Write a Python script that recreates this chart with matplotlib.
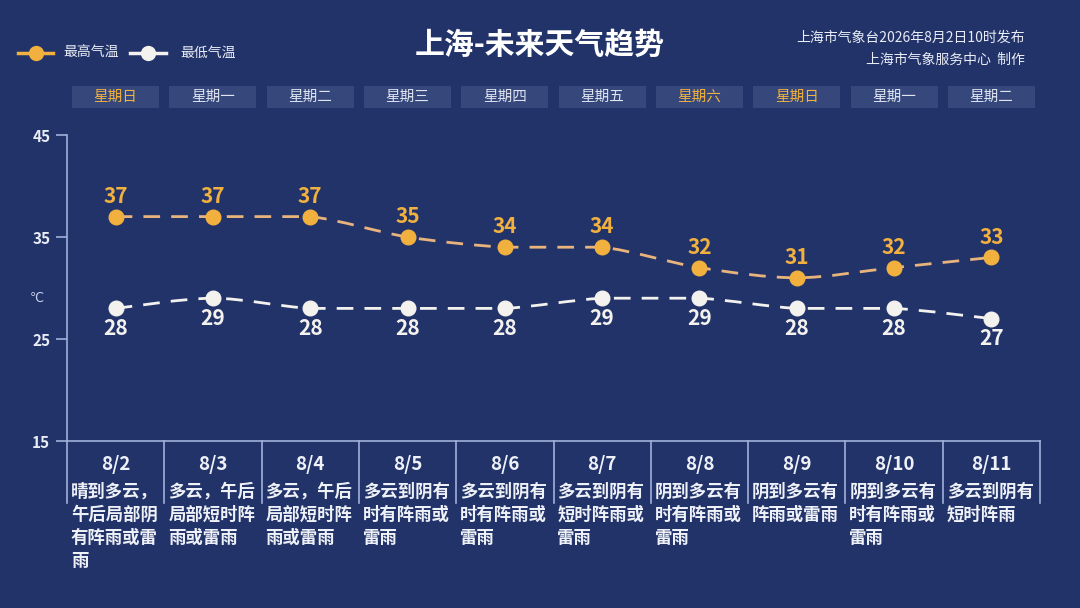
import matplotlib
matplotlib.use("Agg")
import matplotlib.pyplot as plt
from matplotlib.path import Path
from matplotlib.patches import PathPatch, Rectangle
from matplotlib.lines import Line2D
import matplotlib.transforms as mtrans
import numpy as np

plt.rcParams['font.family'] = ['Noto Sans CJK SC', 'DejaVu Sans']

# ---- data ----
dates = ["8/2", "8/3", "8/4", "8/5", "8/6", "8/7", "8/8", "8/9", "8/10", "8/11"]
weekdays = ["星期日", "星期一", "星期二", "星期三", "星期四", "星期五", "星期六", "星期日", "星期一", "星期二"]
weekend = [True, False, False, False, False, False, True, True, False, False]
high = [37, 37, 37, 35, 34, 34, 32, 31, 32, 33]
low = [28, 29, 28, 28, 28, 29, 29, 28, 28, 27]
desc = [
    "晴到多云，\n午后局部阴\n有阵雨或雷\n雨",
    "多云，午后\n局部短时阵\n雨或雷雨",
    "多云，午后\n局部短时阵\n雨或雷雨",
    "多云到阴有\n时有阵雨或\n雷雨",
    "多云到阴有\n时有阵雨或\n雷雨",
    "多云到阴有\n短时阵雨或\n雷雨",
    "阴到多云有\n时有阵雨或\n雷雨",
    "阴到多云有\n阵雨或雷雨",
    "阴到多云有\n时有阵雨或\n雷雨",
    "多云到阴有\n短时阵雨",
]
yticks = [15, 25, 35, 45]

BG = "#22336a"
ORANGE = "#f2b13e"
ORANGE_LINE = "#e9b47c"
WHITE = "#f4f2ee"
AXIS = "#9fb0dc"
BOX = "#35477b"

W, H = 1080, 608
fig = plt.figure(figsize=(W / 100, H / 100), dpi=100, facecolor=BG)


def fy(py):
    return 1 - py / H


def fx(px):
    return px / W


ax = fig.add_axes([fx(67), fy(441), fx(1040) - fx(67), fy(135) - fy(441)])
ax.set_facecolor(BG)
n = len(dates)
x = np.arange(n)
ax.set_xlim(-0.5, n - 0.5)
ax.set_ylim(15, 45)
for s in ["top", "right"]:
    ax.spines[s].set_visible(False)
ax.spines["left"].set_color(AXIS)
ax.spines["bottom"].set_color(AXIS)
ax.spines["left"].set_linewidth(1.2)
ax.spines["bottom"].set_linewidth(1.2)
ax.set_xticks([])
ax.set_yticks(yticks)
ax.set_yticklabels([str(v) for v in yticks], color="#e8ecf5", fontsize=11, fontweight="bold")
ax.tick_params(axis="y", color=AXIS, length=8, width=1.2, pad=4)


def smooth_path(xs, ys, t=0.3):
    verts = [(xs[0], ys[0])]
    codes = [Path.MOVETO]
    m = len(xs)
    for i in range(m - 1):
        x0, y0 = xs[max(i - 1, 0)], ys[max(i - 1, 0)]
        x1, y1 = xs[i], ys[i]
        x2, y2 = xs[i + 1], ys[i + 1]
        x3, y3 = xs[min(i + 2, m - 1)], ys[min(i + 2, m - 1)]
        c1 = (x1 + (x2 - x0) * t / 2, y1 + (y2 - y0) * t / 2)
        c2 = (x2 - (x3 - x1) * t / 2, y2 - (y3 - y1) * t / 2)
        if y1 == y2:
            c1 = (c1[0], y1)
            c2 = (c2[0], y2)
        verts += [c1, c2, (x2, y2)]
        codes += [Path.CURVE4] * 3
    return Path(verts, codes)


for ys, col in [(high, ORANGE_LINE), (low, WHITE)]:
    p = PathPatch(smooth_path(list(x), ys), fill=False, edgecolor=col, lw=2,
                  linestyle=(0, (6, 4)), zorder=2)
    ax.add_patch(p)

ax.plot(x, high, linestyle="none", marker="o", ms=10.5, color=ORANGE, zorder=3)
ax.plot(x, low, linestyle="none", marker="o", ms=10.5, color=WHITE, zorder=3)

for xi, h, l in zip(x, high, low):
    ax.annotate(str(h), (xi, h), xytext=(0, 7), textcoords="offset points",
                ha="center", va="bottom", color=ORANGE, fontsize=15, fontweight="bold")
    ax.annotate(str(l), (xi, l), xytext=(0, -7), textcoords="offset points",
                ha="center", va="top", color=WHITE, fontsize=15, fontweight="bold")

fig.text(fx(37), fy(298), "℃", color="#c8d2ea", fontsize=9, ha="center", va="center",
         family=["DejaVu Sans"])

bt = mtrans.blended_transform_factory(ax.transData, fig.transFigure)

for i in range(n + 1):
    ax.add_line(Line2D([i - 0.5, i - 0.5], [fy(441), fy(503)], transform=bt,
                       color=AXIS, lw=1.2, clip_on=False))

for i in range(n):
    fig.text(i, fy(464), dates[i], transform=bt, ha="center", va="center",
             color="#eef1f7", fontsize=13.5, fontweight="bold")
    fig.text(i - 0.5 + 0.04, fy(483), desc[i], transform=bt, ha="left", va="top",
             color="#eef1f7", fontsize=12.5, fontweight="bold", linespacing=1.36)
    fig.patches.append(Rectangle((i - 0.447, fy(108)), 0.894, fy(86) - fy(108),
                                 transform=bt, facecolor=BOX, edgecolor="none"))
    fig.text(i, fy(97), weekdays[i], transform=bt, ha="center", va="center",
             color=ORANGE if weekend[i] else "#dfe4f0", fontsize=10.5)

fig.text(fx(540), fy(45), "上海-未来天气趋势", ha="center", va="center", color="white",
         fontsize=21.5, fontweight="bold")
fig.text(fx(1025), fy(38), "上海市气象台2026年8月2日10时发布", ha="right", va="center",
         color="#e8ecf5", fontsize=10)
fig.text(fx(1025), fy(60), "上海市气象服务中心  制作", ha="right", va="center",
         color="#e8ecf5", fontsize=10)

fig.add_artist(Line2D([fx(18), fx(53)], [fy(53), fy(53)], color=ORANGE, lw=2.5))
fig.add_artist(Line2D([fx(35.5)], [fy(53)], marker="o", ms=10, color=ORANGE, ls="none"))
fig.text(fx(63), fy(53), "最高气温", ha="left", va="center", color="#e8ecf5", fontsize=10)
fig.add_artist(Line2D([fx(130), fx(166)], [fy(53), fy(53)], color=WHITE, lw=2.5))
fig.add_artist(Line2D([fx(148)], [fy(53)], marker="o", ms=10, color=WHITE, ls="none"))
fig.text(fx(180), fy(53), "最低气温", ha="left", va="center", color="#e8ecf5", fontsize=10)

fig.savefig("out.png", dpi=100, facecolor=BG)
